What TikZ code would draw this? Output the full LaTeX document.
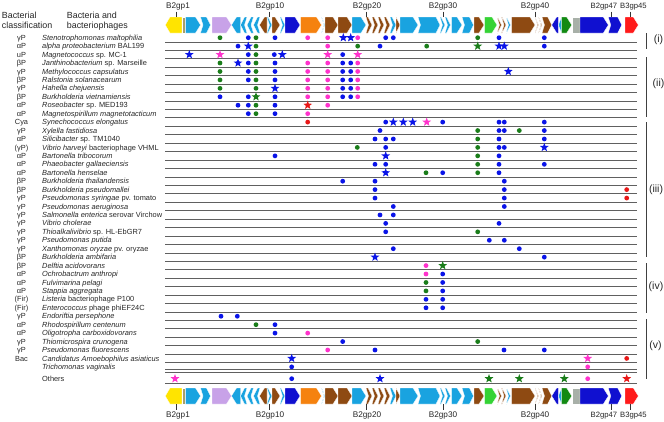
\documentclass[tikz,border=0pt]{standalone}
\usepackage{fontspec}
\setmainfont{Liberation Sans}
\usetikzlibrary{shapes.geometric}
\definecolor{lb}{HTML}{19A3E0}
\definecolor{br}{HTML}{8E4A12}
\definecolor{lav}{HTML}{C8A2E8}
\definecolor{db}{HTML}{1010D0}
\definecolor{orng}{HTML}{F5820F}
\definecolor{bgr}{HTML}{35D335}
\definecolor{dgr}{HTML}{138A13}
\definecolor{ggray}{HTML}{A8B0A8}
\definecolor{gred}{HTML}{FF1A1A}
\definecolor{gyel}{HTML}{FFE400}
\definecolor{golive}{HTML}{A89E6A}
\definecolor{dotb}{HTML}{0A14E8}
\definecolor{dotg}{HTML}{1A7D1A}
\definecolor{dotm}{HTML}{FF33CC}
\definecolor{dotr}{HTML}{E81818}
\definecolor{sepc}{HTML}{606060}
\newcommand\gR[4]{\filldraw[fill=#3,draw=white,line width=0.3pt] (#1,#4-8) -- ({max(#1,#2-5)},#4-8) -- (#2,#4) -- ({max(#1,#2-5)},#4+8) -- (#1,#4+8) -- cycle;}
\newcommand\gC[4]{\filldraw[fill=#3,draw=white,line width=0.3pt] (#1,#4-8) -- ({max(#1,#2-4)},#4-8) -- (#2,#4) -- ({max(#1,#2-4)},#4+8) -- (#1,#4+8) -- ({#1+2.5},#4) -- cycle;}
\newcommand\gL[4]{\filldraw[fill=#3,draw=white,line width=0.3pt] (#1,#4) -- ({min(#2,#1+5)},#4-8) -- (#2,#4-8) -- (#2,#4+8) -- ({min(#2,#1+5)},#4+8) -- cycle;}
\newcommand\gLC[4]{\filldraw[fill=#3,draw=white,line width=0.3pt] (#1,#4) -- ({min(#2,#1+4)},#4-8) -- (#2,#4-8) -- ({#2-2.5},#4) -- (#2,#4+8) -- ({min(#2,#1+4)},#4+8) -- cycle;}
\newcommand\gB[4]{\filldraw[fill=#3,draw=white,line width=0.3pt] (#1,#4-8) rectangle (#2,#4+8);}
\newcommand\genemap[1]{%
 \filldraw[fill=gyel,draw=white,line width=0.3pt] (165.3,#1) -- (170,#1-8) -- (182,#1-8) -- (182,#1+8) -- (170,#1+8) -- cycle;
 \gB{182}{185}{golive}{#1}
 \gR{185.5}{200.5}{lb}{#1}
 \gC{200.5}{210.5}{lb}{#1}
 \gR{212}{231.5}{lav}{#1}
 \gL{231.5}{240.5}{lb}{#1}
 \gLC{240.5}{247}{lb}{#1}
 \gLC{247}{253.5}{lb}{#1}
 \gLC{253.5}{260}{lb}{#1}
 \gL{259.5}{267}{br}{#1}
 \gC{267}{272}{lb}{#1}
 \gR{272}{280}{br}{#1}
 \gC{280}{285}{lb}{#1}
 \gR{285}{300}{db}{#1}
 \gR{300.5}{321.5}{orng}{#1}
 \gC{321.5}{325}{lb}{#1}
 \gR{325}{338}{br}{#1}
 \gR{338}{352}{br}{#1}
 \gR{352}{366}{lb}{#1}
 \gC{366}{372}{br}{#1}
 \gC{372}{378}{br}{#1}
 \gC{378}{384}{br}{#1}
 \gC{384}{390}{br}{#1}
 \gC{390}{396}{lb}{#1}
 \gR{396}{400}{br}{#1}
 \gR{400}{418}{lb}{#1}
 \gC{418}{440}{lb}{#1}
 \gC{440}{445}{lb}{#1}
 \gC{445}{450.5}{lb}{#1}
 \gR{451.5}{462}{lb}{#1}
 \gC{462}{473.5}{lb}{#1}
 \gR{474}{484}{br}{#1}
 \gR{484.5}{497}{bgr}{#1}
 \gC{497}{501.5}{br}{#1}
 \gC{501.5}{506}{br}{#1}
 \gC{506}{510.5}{lb}{#1}
 \gR{511.5}{535}{br}{#1}
 \gC{535}{538.5}{br}{#1}
 \gC{538.5}{542}{br}{#1}
 \gC{542}{551.7}{br}{#1}
 \gL{551.7}{558.3}{db}{#1}
 \gL{558.3}{561.7}{lb}{#1}
 \gR{561.7}{571.7}{dgr}{#1}
 \gB{571.7}{580}{ggray}{#1}
 \gR{580}{608.3}{db}{#1}
 \gC{608.3}{621.7}{db}{#1}
 \gR{625}{638.3}{gred}{#1}
}
\newcommand\mrow[2]{\foreach \x/\t in {#2} \node[\t] at (\x,{37.7+8.44*(#1-1)}) {};}
\tikzset{
 dB/.style={circle,fill=dotb,minimum size=4.8pt,inner sep=0},
 dG/.style={circle,fill=dotg,minimum size=4.8pt,inner sep=0},
 dM/.style={circle,fill=dotm,minimum size=4.8pt,inner sep=0},
 dR/.style={circle,fill=dotr,minimum size=4.8pt,inner sep=0},
 stbase/.style={star,star points=5,star point ratio=2.4,minimum size=9.2pt,inner sep=0},
 sB/.style={stbase,fill=dotb},
 sG/.style={stbase,fill=dotg},
 sM/.style={stbase,fill=dotm},
 sR/.style={stbase,fill=dotr},
 sepline/.style={draw=sepc,line width=0.8pt},
 spname/.style={anchor=base west,inner sep=0,font=\fontsize{7.4}{8}\selectfont,text=black!85},
 clname/.style={anchor=base,inner sep=0,font=\fontsize{7.4}{8}\selectfont,text=black!85},
 hdr/.style={anchor=base west,inner sep=0,font=\fontsize{8.9}{10}\selectfont,text=black!85},
 glab/.style={anchor=base,inner sep=0,font=\fontsize{8.2}{10}\selectfont,text=black!85},
 glabs/.style={anchor=base,inner sep=0,font=\fontsize{7.7}{10}\selectfont,text=black!85},
 grp/.style={anchor=center,inner sep=0,font=\fontsize{10.5}{12}\selectfont,text=black!85},
 brk/.style={draw=black!75,line width=1.3pt},
 tick/.style={draw=black!80,line width=0.5pt}
}
\begin{document}
\begin{tikzpicture}[x=1pt,y=-1pt]
\useasboundingbox (0,0) rectangle (664,421);
% headers
\node[hdr] (h1) at (1.7,18.3) {Bacterial};
\node[hdr] (h2) at (1.7,28.3) {classification};
\node[hdr] (h3) at (66.7,18.3) {Bacteria and};
\node[hdr] (h4) at (66.7,28.3) {bacteriophages};
% separator lines
\foreach \k in {1,...,39} \draw[sepline] (165,{37.7+8.44*(\k-1)+4.2}) -- (637,{37.7+8.44*(\k-1)+4.2});
\draw[sepline] (165,369.7) -- (637,369.7);
\draw[sepline] (165,372.7) -- (637,372.7);
\draw[sepline] (165,383.3) -- (637,383.3);
% gene maps
\genemap{25}
\genemap{396}
% gene labels and ticks
\foreach \lx/\tx/\nm/\lab in {178/176/t1/B2gp1, 270/269/t10/B2gp10, 367/366.7/t20/B2gp20, 443/443/t30/B2gp30, 535/535/t40/B2gp40}{
  \node[glab] (\nm) at (\lx,8.3) {\lab};
  \draw[tick] (\tx,11.5) -- (\tx,17);
  \node[glab] (b\nm) at (\lx,417.3) {\lab};
  \draw[tick] (\tx,404) -- (\tx,409.5);
}
\foreach \lx/\tx/\nm/\lab in {604/611.7/t47/B2gp47, 633.5/630/t45/B3gp45}{
  \node[glabs] (\nm) at (\lx,8.3) {\lab};
  \draw[tick] (\tx,11.5) -- (\tx,17);
  \node[glabs] (b\nm) at (\lx,417.3) {\lab};
  \draw[tick] (\tx,404) -- (\tx,409.5);
}
% species and classes
\foreach \k/\c/\s in {
 1/γP/{\textit{Stenotrophomonas maltophilia}},
 2/αP/{\textit{alpha proteobacterium} BAL199},
 3/uP/{\textit{Magnetococcus} sp. MC-1},
 4/βP/{\textit{Janthinobacterium} sp. Marseille},
 5/γP/{\textit{Methylococcus capsulatus}},
 6/βP/{\textit{Ralstonia solanacearum}},
 7/γP/{\textit{Hahella chejuensis}},
 8/βP/{\textit{Burkholderia vietnamiensis}},
 9/αP/{\textit{Roseobacter} sp. MED193},
 10/αP/{\textit{Magnetospirillum magnetotacticum}},
 11/Cya/{\textit{Synechococcus elongatus}},
 12/γP/{\textit{Xylella fastidiosa}},
 13/αP/{\textit{Silicibacter} sp. TM1040},
 14/(γP)/{\textit{Vibrio harveyi} bacteriophage VHML},
 15/αP/{\textit{Bartonella tribocorum}},
 16/αP/{\textit{Phaeobacter gallaeciensis}},
 17/αP/{\textit{Bartonella henselae}},
 18/βP/{\textit{Burkholderia thailandensis}},
 19/βP/{\textit{Burkholderia pseudomallei}},
 20/γP/{\textit{Pseudomonas syringae} pv. tomato},
 21/γP/{\textit{Pseudomonas aeruginosa}},
 22/γP/{\textit{Salmonella enterica} serovar Virchow},
 23/γP/{\textit{Vibrio cholerae}},
 24/γP/{\textit{Thioalkalivibrio} sp. HL-EbGR7},
 25/γP/{\textit{Pseudomonas putida}},
 26/γP/{\textit{Xanthomonas oryzae} pv. oryzae},
 27/βP/{\textit{Burkholderia ambifaria}},
 28/βP/{\textit{Delftia acidovorans}},
 29/αP/{\textit{Ochrobactrum anthropi}},
 30/αP/{\textit{Fulvimarina pelagi}},
 31/αP/{\textit{Stappia aggregata}},
 32/(Fir)/{\textit{Listeria} bacteriophage P100},
 33/(Fir)/{\textit{Enterococcus} phage phiEF24C},
 34/γP/{\textit{Endoriftia persephone}},
 35/αP/{\textit{Rhodospirillum centenum}},
 36/αP/{\textit{Oligotropha carboxidovorans}},
 37/γP/{\textit{Thiomicrospira crunogena}},
 38/γP/{\textit{Pseudomonas fluorescens}},
 39/Bac/{\textit{Candidatus Amoebophilus asiaticus}},
 40//{\textit{Trichomonas vaginalis}}}{
 \node[spname] (s\k) at (42,{37.7+8.44*(\k-1)+2.6}) {\s};
 \node[clname] (c\k) at (21.5,{37.7+8.44*(\k-1)+2.6}) {\c};
}
\node[spname] (others) at (42,381.3) {Others};
% group brackets
\draw[brk] (646.5,33) -- (646.5,49);
\draw[brk] (646.5,57) -- (646.5,117);
\draw[brk] (646.5,122) -- (646.5,257);
\draw[brk] (646.5,263) -- (646.5,313);
\draw[brk] (646.5,319) -- (646.5,379);
\node[grp] (gi) at (658.5,40) {(i)};
\node[grp] (gii) at (658.5,84) {(ii)};
\node[grp] (giii) at (656,190) {(iii)};
\node[grp] (giv) at (656,287) {(iv)};
\node[grp] (gv) at (655.5,346) {(v)};
% markers
\mrow{1}{220/dG,248.3/dB,256/dG,275/dB,307.7/dM,327.7/dM,343.3/sB,350.7/sB,357.7/dM,385.7/dB,393.3/dB,477.7/dG,499/dB,544.3/dB}
\mrow{2}{238/dB,248.3/sB,256/dG,327.7/dM,357.7/dG,380/dB,426.7/dG,477.7/sG,499/sB,504.3/sB,544.3/dB}
\mrow{3}{189.3/sB,220/sM,248.3/dB,256/dG,274.3/dB,282.3/sB,327.7/sM,342.7/dB,357.7/sM}
\mrow{4}{220/dG,238/sB,248.3/dB,256/dG,275/dB,307.7/dM,327.7/dM,342.7/dB,350.7/dB,357.7/dM}
\mrow{5}{220/dG,248.3/dB,256/dG,275/dB,307.7/dM,327.7/dM,342.7/dB,350.7/dB,357.7/dM,508.3/sB}
\mrow{6}{220/dG,248.3/dB,256/dG,275/dB,307.7/dM,327.7/dM,342.7/dB,350.7/dB,357.7/dM}
\mrow{7}{220/dG,256/dG,275/sB,307.7/dM,327.7/dM,342.7/dB,350.7/dB,357.7/dM}
\mrow{8}{220/dB,248.3/dB,256/sG,275/dB,307.7/dM,327.7/dM,342.7/dB,350.7/dB,357.7/dM}
\mrow{9}{238/dB,248.3/dB,256/dG,275/dB,307.7/sR,327.7/dM}
\mrow{10}{248.3/dB,256/dG,275/dB,307.7/dM}
\mrow{11}{307.7/dR,385.7/dB,393.3/sB,403.3/sB,412.7/sB,426.7/sM,442.7/dB,499/dB,504.3/dB,544.3/dB}
\mrow{12}{380/dB,477.7/dG,499/dB,504.3/dB,519.3/dG,544.3/dB}
\mrow{13}{375/dB,385.7/dB,393.3/dB,477.7/dG,499/dB,544.3/dB}
\mrow{14}{357.3/dG,385.7/dB,477.7/dG,499/dB,504.3/dB,544.3/sB}
\mrow{15}{275/dB,385.7/sB,477.7/dG,499/dB}
\mrow{16}{375/dB,385.7/dB,477.7/dG,499/dB,544.3/dB}
\mrow{17}{385.7/sB,426/dG,442.7/dB,477.7/dG,499/dB}
\mrow{18}{342.7/dB,375/dB,504.3/dB}
\mrow{19}{375/dB,504.3/dB,626.7/dR}
\mrow{20}{375/dB,504.3/dB,626.7/dR}
\mrow{21}{393.3/dB,504.3/dB}
\mrow{22}{380/dB,393.3/dB}
\mrow{23}{385.7/dB,499/dB}
\mrow{24}{385.7/dB,477.7/dG}
\mrow{25}{489.3/dB,504.3/dB}
\mrow{26}{393.3/dB,519.3/dB}
\mrow{27}{375/sB,544.3/dB}
\mrow{28}{426/dM,442.7/sG}
\mrow{29}{426/dM,442.7/dB}
\mrow{30}{426/dG,442.7/dB}
\mrow{31}{426/dG,442.7/dB}
\mrow{32}{426/dB,442.7/dB}
\mrow{33}{426/dB,442.7/dB}
\mrow{34}{221/dB,237.3/dB}
\mrow{35}{256/dG,275/dB}
\mrow{36}{275/dB,307.7/dM}
\mrow{37}{342.7/dB,477.7/dG}
\mrow{38}{327.7/dM,375/dB,504/dB,544.3/dB}
\mrow{39}{291.7/sB,587.7/sM,626.7/dR}
\mrow{40}{291.7/dB,587.7/dM}
\mrow{41.4}{175/sM,291.7/dB,380/sB,489/sG,519.3/sG,564.3/sG,587.7/dM,626.7/sR}
\end{tikzpicture}
\end{document}
